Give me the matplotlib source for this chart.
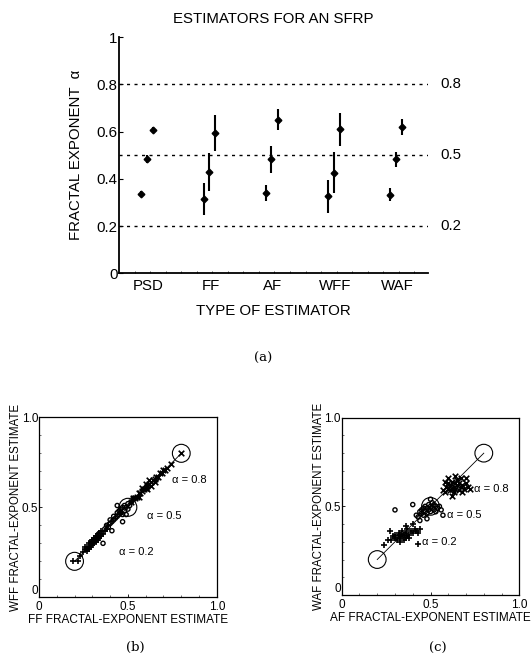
import matplotlib
matplotlib.use('Agg')
import matplotlib.pyplot as plt
from matplotlib.patches import Circle

plt.rcParams['font.family'] = ['Liberation Sans', 'DejaVu Sans']

# ---- panel (a): mean +/- sd of the estimates for each estimator
categories = ['PSD', 'FF', 'AF', 'WFF', 'WAF']
mean_02 = [0.335, 0.313, 0.340, 0.325, 0.332]
err_02 = [0.012, 0.067, 0.035, 0.068, 0.028]
mean_05 = [0.483, 0.428, 0.483, 0.426, 0.483]
err_05 = [0.018, 0.080, 0.057, 0.086, 0.032]
mean_08 = [0.607, 0.594, 0.650, 0.610, 0.619]
err_08 = [0.012, 0.075, 0.044, 0.070, 0.034]
true_alpha = [0.2, 0.5, 0.8]

# ---- panel (b): WFF vs FF estimates
b_plus_x = [0.19, 0.22, 0.23, 0.25, 0.26, 0.27, 0.27, 0.28, 0.28, 0.29, 0.29, 0.30, 0.30, 0.30, 0.31, 0.31,
            0.32, 0.32, 0.33, 0.33, 0.34, 0.34, 0.35, 0.35, 0.36, 0.37, 0.38, 0.39, 0.26, 0.29, 0.31, 0.33]
b_plus_y = [0.20, 0.20, 0.23, 0.25, 0.27, 0.26, 0.28, 0.27, 0.30, 0.28, 0.31, 0.29, 0.31, 0.32, 0.30, 0.33,
            0.31, 0.34, 0.32, 0.35, 0.33, 0.36, 0.34, 0.37, 0.35, 0.37, 0.38, 0.40, 0.28, 0.29, 0.32, 0.33]
b_o_x = [0.37, 0.38, 0.39, 0.40, 0.40, 0.41, 0.42, 0.42, 0.43, 0.44, 0.44, 0.45, 0.45, 0.46, 0.46, 0.47,
         0.47, 0.48, 0.48, 0.49, 0.50, 0.50, 0.51, 0.52, 0.36, 0.47, 0.49, 0.44, 0.53, 0.41]
b_o_y = [0.38, 0.40, 0.39, 0.41, 0.43, 0.42, 0.43, 0.45, 0.44, 0.45, 0.47, 0.46, 0.48, 0.47, 0.49, 0.46,
         0.50, 0.48, 0.51, 0.50, 0.49, 0.52, 0.51, 0.53, 0.30, 0.42, 0.46, 0.51, 0.55, 0.37]
b_x_x = [0.52, 0.53, 0.54, 0.55, 0.56, 0.56, 0.57, 0.58, 0.58, 0.59, 0.60, 0.60, 0.61, 0.61, 0.62, 0.62,
         0.63, 0.63, 0.64, 0.65, 0.65, 0.66, 0.67, 0.68, 0.69, 0.70, 0.71, 0.72, 0.74, 0.80]
b_x_y = [0.53, 0.55, 0.55, 0.56, 0.56, 0.58, 0.58, 0.59, 0.61, 0.60, 0.61, 0.63, 0.62, 0.60, 0.63, 0.65,
         0.64, 0.62, 0.65, 0.66, 0.64, 0.67, 0.67, 0.69, 0.69, 0.71, 0.71, 0.72, 0.74, 0.80]

# ---- panel (c): WAF vs AF estimates
c_plus_x = [0.26, 0.28, 0.29, 0.30, 0.30, 0.31, 0.32, 0.32, 0.33, 0.33, 0.34, 0.34, 0.35, 0.35, 0.36, 0.36,
            0.37, 0.37, 0.38, 0.38, 0.39, 0.40, 0.41, 0.42, 0.43, 0.44, 0.24, 0.27, 0.43, 0.36, 0.40, 0.33]
c_plus_y = [0.31, 0.31, 0.33, 0.32, 0.34, 0.31, 0.33, 0.35, 0.32, 0.34, 0.33, 0.36, 0.31, 0.34, 0.32, 0.35,
            0.33, 0.37, 0.34, 0.32, 0.36, 0.35, 0.37, 0.36, 0.35, 0.37, 0.28, 0.36, 0.29, 0.39, 0.40, 0.30]
c_o_x = [0.42, 0.43, 0.44, 0.45, 0.45, 0.46, 0.46, 0.47, 0.47, 0.48, 0.48, 0.49, 0.49, 0.50, 0.50, 0.51,
         0.51, 0.52, 0.52, 0.53, 0.53, 0.54, 0.55, 0.56, 0.30, 0.40, 0.44, 0.50, 0.57, 0.48]
c_o_y = [0.45, 0.44, 0.47, 0.46, 0.48, 0.45, 0.49, 0.47, 0.50, 0.46, 0.49, 0.48, 0.51, 0.47, 0.50, 0.49,
         0.52, 0.48, 0.51, 0.47, 0.50, 0.49, 0.50, 0.48, 0.48, 0.51, 0.42, 0.54, 0.45, 0.43]
c_x_x = [0.57, 0.58, 0.59, 0.60, 0.60, 0.61, 0.61, 0.62, 0.62, 0.63, 0.63, 0.64, 0.64, 0.65, 0.65, 0.66,
         0.66, 0.67, 0.67, 0.68, 0.69, 0.70, 0.71, 0.58, 0.60, 0.62, 0.68, 0.72, 0.64, 0.70]
c_x_y = [0.59, 0.58, 0.61, 0.60, 0.63, 0.59, 0.62, 0.60, 0.64, 0.61, 0.58, 0.63, 0.60, 0.62, 0.65, 0.59,
         0.63, 0.61, 0.66, 0.62, 0.60, 0.63, 0.61, 0.64, 0.66, 0.56, 0.58, 0.60, 0.67, 0.66]

fig = plt.figure(figsize=(5.31, 6.68), dpi=100)
fs = 8.5
fa = 10.8

# ---------------- (a)
ax = fig.add_axes([0.2241, 0.5909, 0.582, 0.3537])
pos = [1, 2, 3, 4, 5]
for off, m, e in [(-0.11, mean_02, err_02), (-0.02, mean_05, err_05), (0.08, mean_08, err_08)]:
    ax.errorbar([p + off for p in pos], m, yerr=e, fmt='D', color='black', ms=3.4,
                elinewidth=1.5, capsize=0)
for a in true_alpha:
    ax.plot([0.53, 5.5], [a, a], ls=(0, (2.2, 3.2)), color='black', lw=1.0)
    ax.text(5.86, a, f'{a}', ha='center', va='center', fontsize=fa)
ax.set_xlim(0.53, 5.5)
ax.set_ylim(0, 1)
ax.set_xticks(pos)
ax.set_xticklabels(categories, fontsize=fa)
ax.set_yticks([0, 0.2, 0.4, 0.6, 0.8, 1])
ax.set_yticklabels(['0', '0.2', '0.4', '0.6', '0.8', '1'], fontsize=fa)
ax.tick_params(direction='in', length=3, width=0.8, pad=1)
ax.tick_params(axis='x', length=0, pad=4)
ax.set_xticks([0.53 + 0.25 * i for i in range(1, 20)], minor=True)
ax.tick_params(axis='x', which='minor', direction='in', length=1.5, width=0.5)
for s in ['top', 'right']:
    ax.spines[s].set_visible(False)
for s in ['left', 'bottom']:
    ax.spines[s].set_linewidth(1.3)
ax.set_ylabel('FRACTAL EXPONENT  \u03b1', fontsize=fa, labelpad=10)
ax.set_xlabel('TYPE OF ESTIMATOR', fontsize=fa, labelpad=8)
ax.set_title('ESTIMATORS FOR AN SFRP', fontsize=fa, pad=10)
fig.text(0.495, 1 - 358 / 668, '(a)', ha='center', va='center', family='DejaVu Serif', fontsize=fs + 1)


# ---------------- (b) and (c)
def scatter_panel(rect, px, py, ox, oy, xx, xy, xlab, ylab, txt):
    bx = fig.add_axes(rect)
    bx.plot([0.2, 0.8], [0.2, 0.8], color='black', lw=0.6)
    for a in true_alpha:
        bx.add_patch(Circle((a, a), 0.05, fill=False, color='black', lw=0.8))
    bx.scatter(px, py, marker='+', s=22, color='black', lw=1.2)
    bx.scatter(ox, oy, marker='o', s=9, facecolors='none', edgecolors='black', lw=1.0)
    bx.scatter(xx, xy, marker='x', s=16, color='black', lw=1.2)
    for a, (tx, ty) in zip(true_alpha, txt):
        bx.text(tx, ty, f'\u03b1 = {a}', fontsize=fs - 0.5, va='center')
    bx.set_xlim(0, 1)
    bx.set_ylim(0, 1)
    bx.set_xticks([0, 0.5, 1])
    bx.set_yticks([0, 0.5, 1])
    bx.set_xticklabels(['0', '0.5', '1.0'], fontsize=fs)
    ylabels = bx.set_yticklabels(['0', '0.5', '1.0'], fontsize=fs)
    ylabels[0].set_va('bottom')
    bx.tick_params(direction='in', length=2.5, width=0.6)
    bx.tick_params(axis='x', pad=3)
    bx.tick_params(axis='y', pad=0.5)
    bx.set_xticks([0.1 * i for i in range(1, 10)], minor=True)
    bx.set_yticks([0.1 * i for i in range(1, 10)], minor=True)
    bx.tick_params(which='minor', direction='in', length=1.2, width=0.4)
    for s in bx.spines.values():
        s.set_linewidth(0.9)
    bx.set_xlabel(xlab, fontsize=fs, labelpad=0.5)
    bx.set_ylabel(ylab, fontsize=fs - 0.2, labelpad=0)
    return bx


scatter_panel([0.0734, 0.1058, 0.335, 0.2695], b_plus_x, b_plus_y, b_o_x, b_o_y, b_x_x, b_x_y,
              'FF FRACTAL-EXPONENT ESTIMATE', 'WFF FRACTAL-EXPONENT ESTIMATE',
              [(0.45, 0.25), (0.605, 0.45), (0.75, 0.65)])
scatter_panel([0.6435, 0.1093, 0.3345, 0.2654], c_plus_x, c_plus_y, c_o_x, c_o_y, c_x_x, c_x_y,
              'AF FRACTAL-EXPONENT ESTIMATE', 'WAF FRACTAL-EXPONENT ESTIMATE',
              [(0.452, 0.298), (0.593, 0.452), (0.745, 0.6)])
fig.text(135 / 531, 1 - 647 / 668, '(b)', ha='center', va='center', family='DejaVu Serif', fontsize=fs + 1)
fig.text(438 / 531, 1 - 648 / 668, '(c)', ha='center', va='center', family='DejaVu Serif', fontsize=fs + 1)

fig.savefig('out.png', dpi=100)
